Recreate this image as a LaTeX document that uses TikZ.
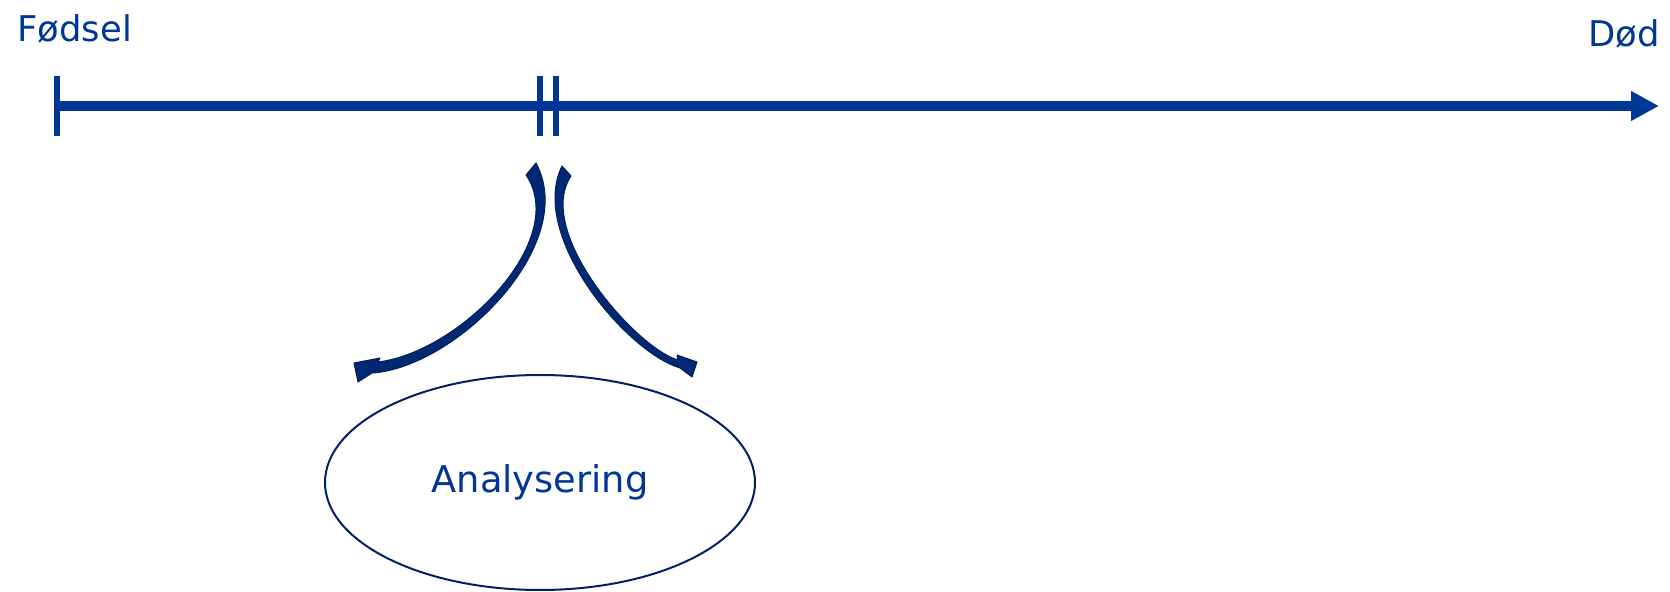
\documentclass[tikz,border=0pt]{standalone}
\usepackage{fontspec}
\setmainfont{DejaVu Sans}
\usepackage{tikz}
\usetikzlibrary{arrows.meta,shapes.geometric}
\definecolor{lifeblue}{RGB}{0,54,150}
\definecolor{bendblue}{RGB}{0,40,115}
\definecolor{bendedge}{RGB}{0,30,90}
\definecolor{ringblue}{RGB}{0,32,100}

\begin{document}
\begin{tikzpicture}[x=0.5pt,y=-0.5pt,>={Triangle[length=14pt,width=14pt]},
  font=\fontsize{17.7}{21}\selectfont,
  lbl/.style={text=lifeblue,inner sep=0pt},
  tickmark/.style={lifeblue,line width=3pt},
  bentarrow/.style={fill=bendblue,draw=bendedge,line width=0.5pt,line join=round}]
  \useasboundingbox (0,0) rectangle (1670,592);
  % the life line
  \coordinate (birth) at (57,106);
  \coordinate (death) at (1659,106);
  \coordinate (now1) at (540,106);
  \coordinate (now2) at (556,106);
  \draw[->,lifeblue,line width=5pt] (birth) -- (death);
  \draw[tickmark] ([yshift=15pt]birth) -- ([yshift=-15pt]birth);
  \draw[tickmark] ([yshift=15pt]now1) -- ([yshift=-15pt]now1);
  \draw[tickmark] ([yshift=15pt]now2) -- ([yshift=-15pt]now2);
  \node[lbl,anchor=base west] (fodsel) at (17,42) {Fødsel};
  \node[lbl,anchor=base east] (dod) at (1660,47) {Død};
  % the two bent arrows
  \filldraw[bentarrow] (536,163) .. controls (580,245) and (455,368) .. (372,373)
    -- (358,382) -- (354,363) -- (380,358) -- (378,362)
    .. controls (460,352) and (570,240) .. (526,175) -- cycle;
  \filldraw[bentarrow] (562,166) .. controls (528,235) and (626,352) .. (680,368)
    -- (692,377) -- (697,362) -- (677,355) -- (678,360)
    .. controls (636,348) and (534,232) .. (571,176) -- cycle;
  \node[ellipse,draw=ringblue,line width=1pt,minimum width=215pt,minimum height=107.5pt,
    inner sep=0pt,text=lifeblue,font=\fontsize{18.4}{22}\selectfont] (analyse) at (540,482.5) {Analysering};
\end{tikzpicture}
\end{document}
